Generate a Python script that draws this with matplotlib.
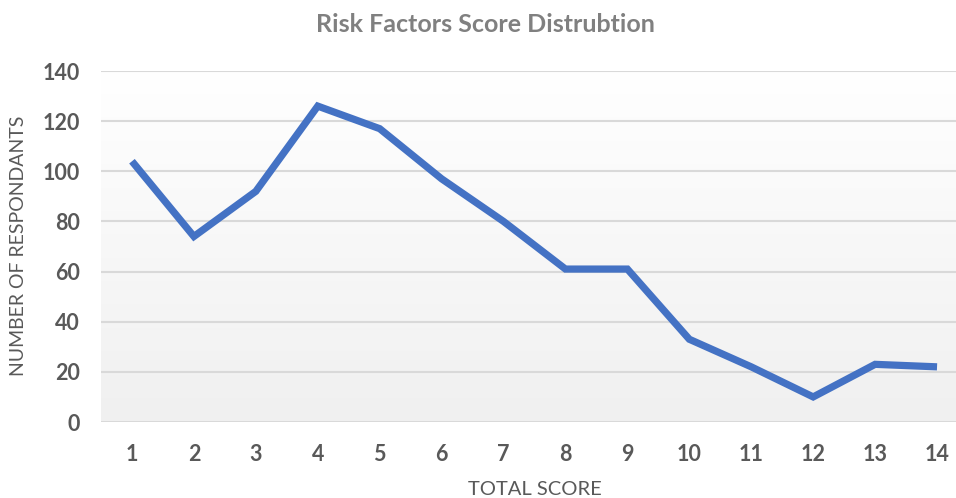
import matplotlib
matplotlib.use("Agg")
import matplotlib.pyplot as plt
import numpy as np
from matplotlib.colors import LinearSegmentedColormap

scores = [1, 2, 3, 4, 5, 6, 7, 8, 9, 10, 11, 12, 13, 14]
respondents = [104, 74, 92, 126, 117, 97, 80, 61, 61, 33, 22, 10, 23, 22]
y_ticks = [0, 20, 40, 60, 80, 100, 120, 140]

plt.rcParams['font.family'] = ['Lato', 'DejaVu Sans']

fig = plt.figure(figsize=(9.56, 4.98), dpi=100)
ax = fig.add_axes([101/956, 1 - 422/498, 867/956, (422 - 71)/498])

# gradient background: white at top, light gray at bottom
grad = np.linspace(1, 0, 256).reshape(-1, 1)
cmap = LinearSegmentedColormap.from_list('bg', ['#ffffff', '#f0f0f0'])
ax.imshow(grad, extent=[0, 1, 0, 1], origin='lower', transform=ax.transAxes,
          cmap=cmap, aspect='auto', zorder=0)

ax.plot(scores, respondents, color='#4472C4', lw=5.2, solid_capstyle='butt',
        solid_joinstyle='miter', zorder=3)

ax.set_xlim(0.5, 14.5)
ax.set_ylim(0, 140)
ax.set_yticks(y_ticks)
ax.set_xticks(scores)
ax.set_xticklabels([str(s) for s in scores])
ax.yaxis.grid(True, color='#d9d9d9', lw=1.5, zorder=1)
ax.set_axisbelow(True)
for s in ax.spines.values():
    s.set_visible(False)
ax.tick_params(length=0, labelsize=15.5, labelcolor='#595959')
ax.tick_params(axis='x', pad=16)
ax.tick_params(axis='y', pad=15)
for lbl in ax.get_xticklabels() + ax.get_yticklabels():
    lbl.set_fontweight('bold')

fig.text(485/956, 1 - 25/498, 'Risk Factors Score Distrubtion', ha='center', va='center',
         fontsize=18, fontweight='bold', color='#808080')
fig.text(535/956, 1 - 489/498, 'TOTAL SCORE', ha='center', va='center',
         fontsize=14.5, color='#595959')
fig.text(19/956, 1 - 246/498, 'NUMBER OF RESPONDANTS', ha='center', va='center',
         rotation=90, fontsize=14, color='#595959')

fig.savefig('out.png', dpi=100)
